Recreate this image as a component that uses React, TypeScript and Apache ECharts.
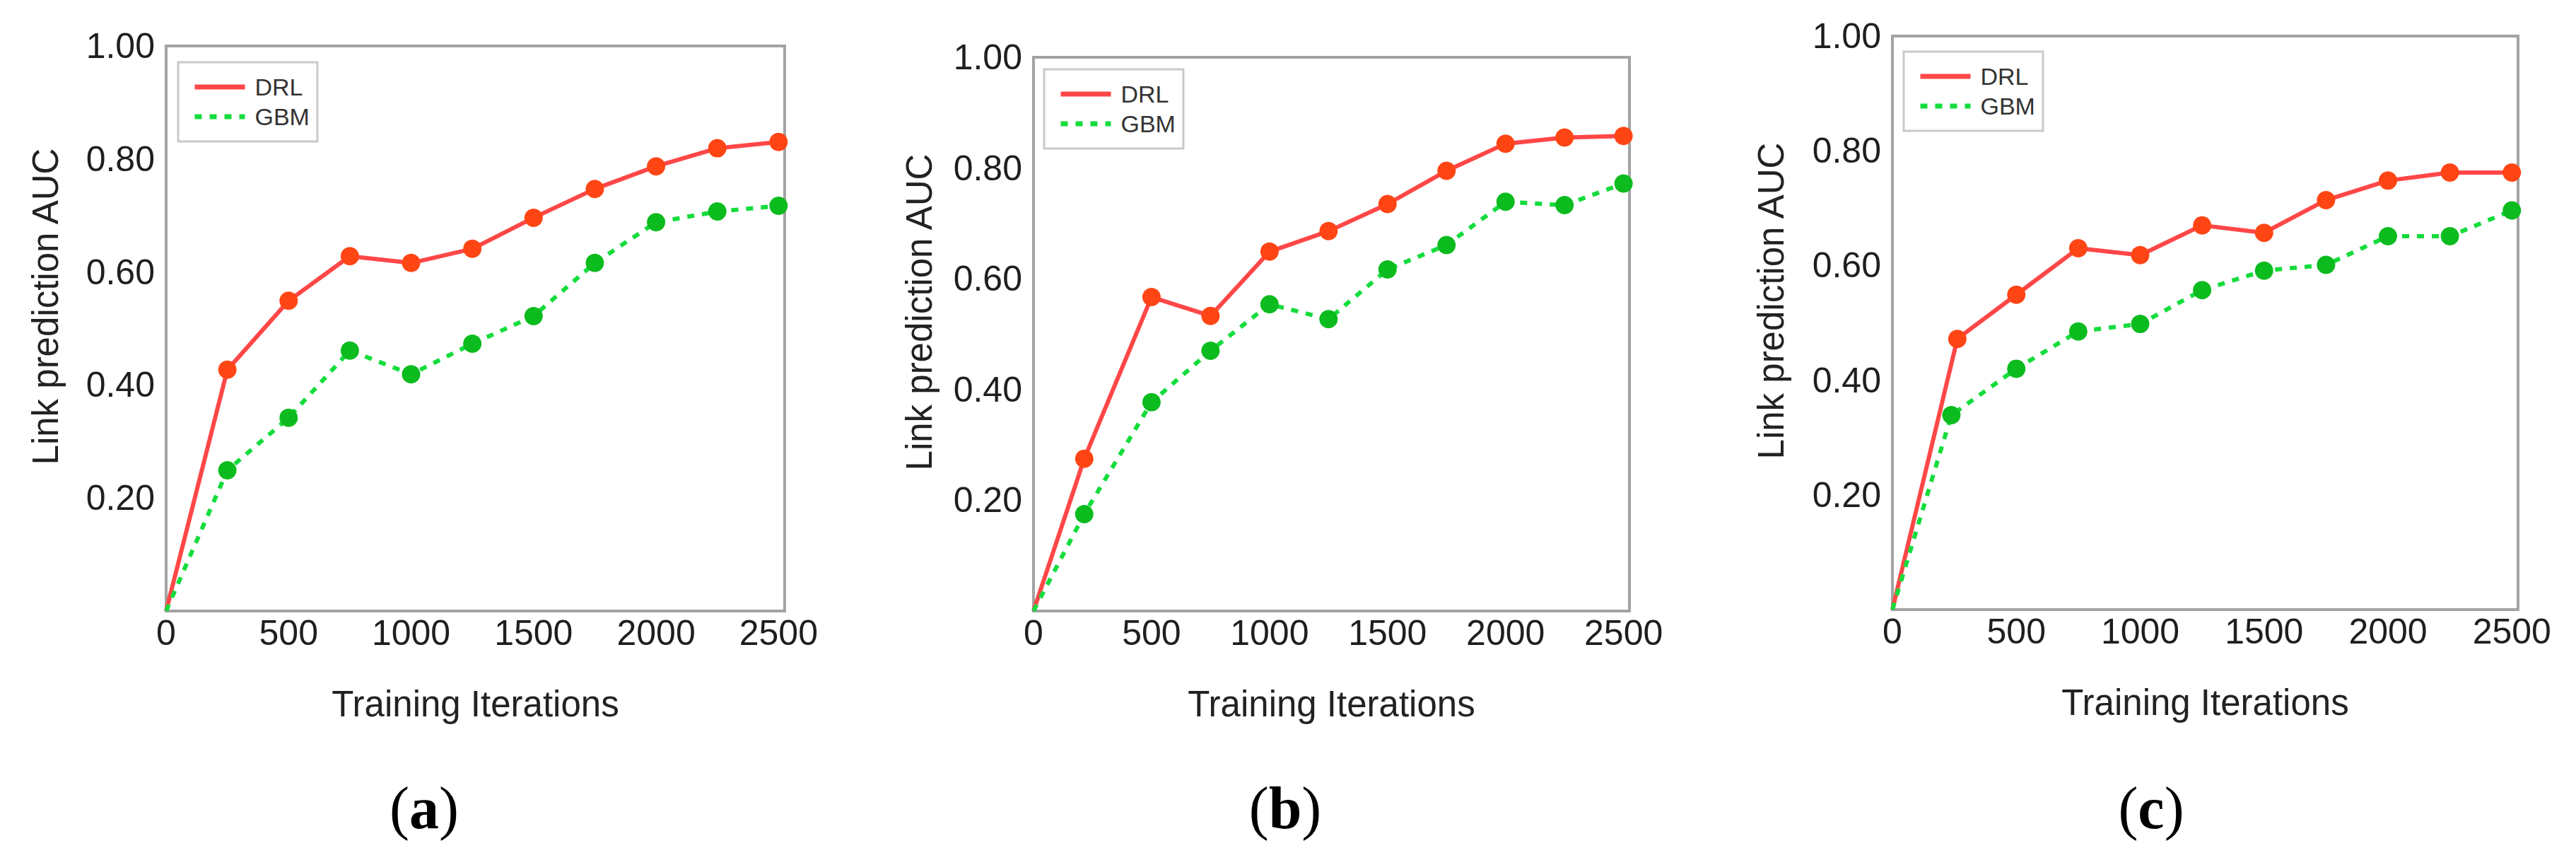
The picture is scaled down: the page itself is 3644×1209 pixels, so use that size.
import React, { useEffect, useRef } from "react";
import * as echarts from "echarts";

// ---- data ----
const seriesNames = ["DRL", "GBM"];
const panelLabels = ["a", "b", "c"];
const xTicks = [0, 500, 1000, 1500, 2000, 2500];
const yTicks = [0.2, 0.4, 0.6, 0.8, 1.0];
const xAxisName = "Training Iterations";
const yAxisName = "Link prediction AUC";

const xA = [0, 250, 500, 750, 1000, 1250, 1500, 1750, 2000, 2250, 2500];
const drlA = [0, 0.427, 0.549, 0.628, 0.616, 0.641, 0.696, 0.747, 0.787, 0.819, 0.83];
const gbmA = [0, 0.249, 0.342, 0.461, 0.419, 0.473, 0.522, 0.616, 0.688, 0.707, 0.717];

const xB = [0, 215, 500, 750, 1000, 1250, 1500, 1750, 2000, 2250, 2500];
const drlB = [0, 0.275, 0.567, 0.533, 0.649, 0.686, 0.735, 0.795, 0.844, 0.855, 0.858];
const gbmB = [0, 0.175, 0.377, 0.47, 0.554, 0.527, 0.617, 0.661, 0.739, 0.733, 0.772];

const xCDrl = [0, 262, 500, 750, 1000, 1250, 1500, 1750, 2000, 2250, 2500];
const xCGbm = [0, 238, 500, 750, 1000, 1250, 1500, 1750, 2000, 2250, 2500];
const drlC = [0, 0.472, 0.549, 0.63, 0.618, 0.67, 0.657, 0.714, 0.748, 0.762, 0.762];
const gbmC = [0, 0.339, 0.42, 0.485, 0.498, 0.557, 0.591, 0.601, 0.651, 0.651, 0.696];

const panelX = [[xA, xA], [xB, xB], [xCDrl, xCGbm]];
const panelY = [[drlA, gbmA], [drlB, gbmB], [drlC, gbmC]];

// ---- layout / style ----
const W = 3644;
const H = 1209;
const FONT = "'Liberation Sans', Arial, sans-serif";
const SERIF = "'Liberation Serif', 'Times New Roman', serif";
const grids = [
  { left: 235, top: 65, width: 875, height: 799 },
  { left: 1462, top: 81, width: 843, height: 783 },
  { left: 2677, top: 51, width: 885, height: 811 },
];
const legendPos = [
  { left: 252, top: 88 },
  { left: 1477, top: 98 },
  { left: 2693, top: 73 },
];
const yNameGaps = [145, 136, 146];
const captionX = [600, 1818, 3043];
const captionY = 1142;
const X_MAX = 2525;

const lineColors = ["#ff4747", "#14dc3c"];
const markerColors = ["#ff4514", "#0cbb1e"];

function buildOption() {
  const series: any[] = [];
  panelLabels.forEach((_, i) => {
    seriesNames.forEach((name, s) => {
      const xs = panelX[i][s];
      const ys = panelY[i][s];
      series.push({
        type: "line",
        name,
        xAxisIndex: i,
        yAxisIndex: i,
        symbol: "circle",
        symbolSize: 26,
        clip: false,
        silent: true,
        lineStyle: {
          color: lineColors[s],
          width: 6,
          type: s === 0 ? "solid" : [10, 11],
        },
        itemStyle: { color: markerColors[s] },
        emphasis: { disabled: true },
        data: xs.map((xv, k) =>
          k === 0 ? { value: [xv, ys[k]], symbol: "none" } : [xv, ys[k]]
        ),
      });
    });
  });

  return {
    animation: false,
    backgroundColor: "#ffffff",
    grid: grids.map((g) => ({
      ...g,
      show: true,
      borderColor: "#a3a3a3",
      borderWidth: 4,
      backgroundColor: "#ffffff",
      containLabel: false,
    })),
    xAxis: grids.map((_, i) => ({
      type: "value",
      gridIndex: i,
      min: 0,
      max: X_MAX,
      interval: 500,
      axisLine: { show: false },
      axisTick: { show: false },
      splitLine: { show: false },
      axisLabel: {
        margin: 6,
        fontSize: 50,
        fontFamily: FONT,
        color: "#1e1e1e",
        showMaxLabel: false,
        formatter: (v: number) => (xTicks.includes(v) ? String(v) : ""),
      },
      name: xAxisName,
      nameLocation: "middle",
      nameGap: 106,
      nameTextStyle: { fontSize: 51, fontFamily: FONT, color: "#222" },
    })),
    yAxis: grids.map((_, i) => ({
      type: "value",
      gridIndex: i,
      min: 0,
      max: 1,
      interval: 0.2,
      axisLine: { show: false },
      axisTick: { show: false },
      splitLine: { show: false },
      axisLabel: {
        margin: 16,
        fontSize: 50,
        fontFamily: FONT,
        color: "#1e1e1e",
        formatter: (v: number) =>
          yTicks.some((t) => Math.abs(t - v) < 1e-6) ? v.toFixed(2) : "",
      },
      name: yAxisName,
      nameLocation: "middle",
      nameGap: yNameGaps[i],
      nameTextStyle: {
        fontSize: 51,
        fontFamily: FONT,
        color: "#222",
        padding: [0, 0, 0, 62],
      },
    })),
    legend: legendPos.map((p) => ({
      ...p,
      orient: "vertical",
      data: seriesNames,
      padding: [18, 11, 18, 20],
      itemGap: 8,
      itemWidth: 71,
      itemHeight: 34,
      borderColor: "#c9c9c9",
      borderWidth: 3,
      backgroundColor: "#ffffff",
      selectedMode: false,
      itemStyle: { opacity: 0 },
      lineStyle: { width: 7 },
      textStyle: {
        fontSize: 34,
        lineHeight: 34,
        fontFamily: FONT,
        color: "#333",
        padding: [0, 0, 0, 9],
      },
    })),
    graphic: panelLabels.map((p, i) => ({
      type: "text",
      x: captionX[i],
      y: captionY,
      silent: true,
      style: {
        text: `{p|(}{b|${p}}{p|)}`,
        align: "center",
        verticalAlign: "middle",
        rich: {
          p: { fontFamily: SERIF, fontSize: 84, color: "#000" },
          b: { fontFamily: SERIF, fontSize: 84, fontWeight: "bold", color: "#000" },
        },
      },
    })),
    series,
  };
}

export default function App() {
  const ref = useRef<HTMLDivElement>(null);
  useEffect(() => {
    document.body.style.margin = "0";
    if (!ref.current) return;
    const chart = echarts.init(ref.current, undefined, { renderer: "svg" });
    chart.setOption(buildOption() as any);
    return () => chart.dispose();
  }, []);
  return <div ref={ref} style={{ width: W, height: H, background: "#fff" }} />;
}
